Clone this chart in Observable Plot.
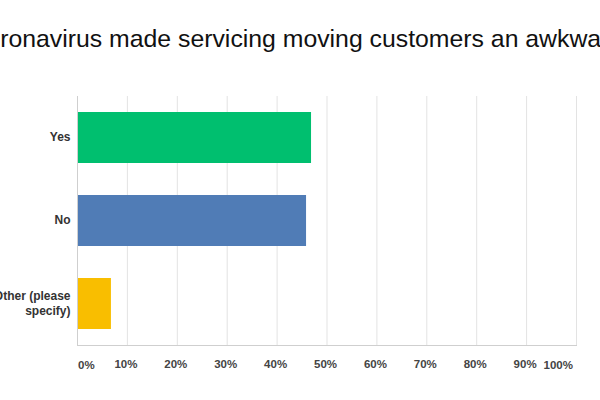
<!DOCTYPE html>
<html>
<head>
<meta charset="utf-8">
<script src="https://cdn.jsdelivr.net/npm/d3@7"></script>
<script src="https://cdn.jsdelivr.net/npm/@observablehq/plot@0.6"></script>
<style>
  html, body { margin: 0; padding: 0; background: #fff; }
  #wrap { width: 600px; height: 400px; overflow: hidden; }
  #title {
    width: 600px; height: 70px; overflow: hidden; box-sizing: border-box;
    padding-top: 27px; font-family: "Liberation Sans", Arial, sans-serif;
    font-size: 24.8px; line-height: 24px; color: #111;
    white-space: nowrap; display: flex; justify-content: center;
  }
  #title span { flex: none; }
</style>
</head>
<body>
<div id="wrap">
  <div id="title"><span>Has coronavirus made servicing moving customers an awkward job?</span></div>
  <div id="chart"></div>
</div>
<script>
// Survey answers and share of respondents (%)
const answers = ["Yes", "No", "Other (please specify)"];
const shares = [46.9, 45.9, 6.8];
const answerLabels = ["Yes", "No", "Other (please\nspecify)"];
const barColors = ["#00bf6f", "#507cb6", "#f9be00"];

// Percent axis ticks
const innerTicks = [10, 20, 30, 40, 50, 60, 70, 80, 90];
const gridTicks = [0, 10, 20, 30, 40, 50, 60, 70, 80, 90, 100];

const rows = answers.map((a, i) => ({answer: a, share: shares[i]}));
const labelOf = new Map(answers.map((a, i) => [a, answerLabels[i]]));

const font = "'Liberation Sans', Arial, sans-serif";

const chart = Plot.plot({
  width: 600,
  height: 330,
  marginTop: 26,
  marginBottom: 55,
  marginLeft: 77,
  marginRight: 24,
  style: {fontFamily: font, color: "#333", background: "#fff"},
  x: {domain: [0, 100], axis: null},
  y: {domain: answers, paddingInner: 0.386, paddingOuter: 0.193, axis: null},
  color: {domain: answers, range: barColors},
  marks: [
    Plot.ruleX(gridTicks.slice(1), {stroke: "#e3e3e3", strokeWidth: 1}),
    Plot.barX(rows, {y: "answer", x: "share", fill: "answer"}),
    Plot.frame({anchor: "bottom", stroke: "#cfcfcf"}),
    Plot.ruleX([0], {stroke: "#cfcfcf"}),
    Plot.axisY({
      label: null, tickSize: 0, tickPadding: 7, fontSize: 12, fontWeight: 700,
      lineHeight: 1.25, tickFormat: d => labelOf.get(d), fill: "#333", dy: -1.5
    }),
    Plot.axisX(innerTicks, {
      label: null, tickSize: 0, tickPadding: 14, fontSize: 11.5, fontWeight: 600,
      tickFormat: d => d + "%", fill: "#444", dx: -1.5
    }),
    Plot.text([0], {x: d => d, text: d => d + "%", frameAnchor: "bottom", lineAnchor: "top",
      dy: 15, textAnchor: "start", fontSize: 11.5, fontWeight: 600, fill: "#444", dx: 0.5}),
    Plot.text([100], {x: d => d, text: d => d + "%", frameAnchor: "bottom", lineAnchor: "top",
      dy: 15, textAnchor: "end", fontSize: 11.5, fontWeight: 600, fill: "#444", dx: -3.5})
  ]
});
document.getElementById("chart").appendChild(chart);
</script>
</body>
</html>
